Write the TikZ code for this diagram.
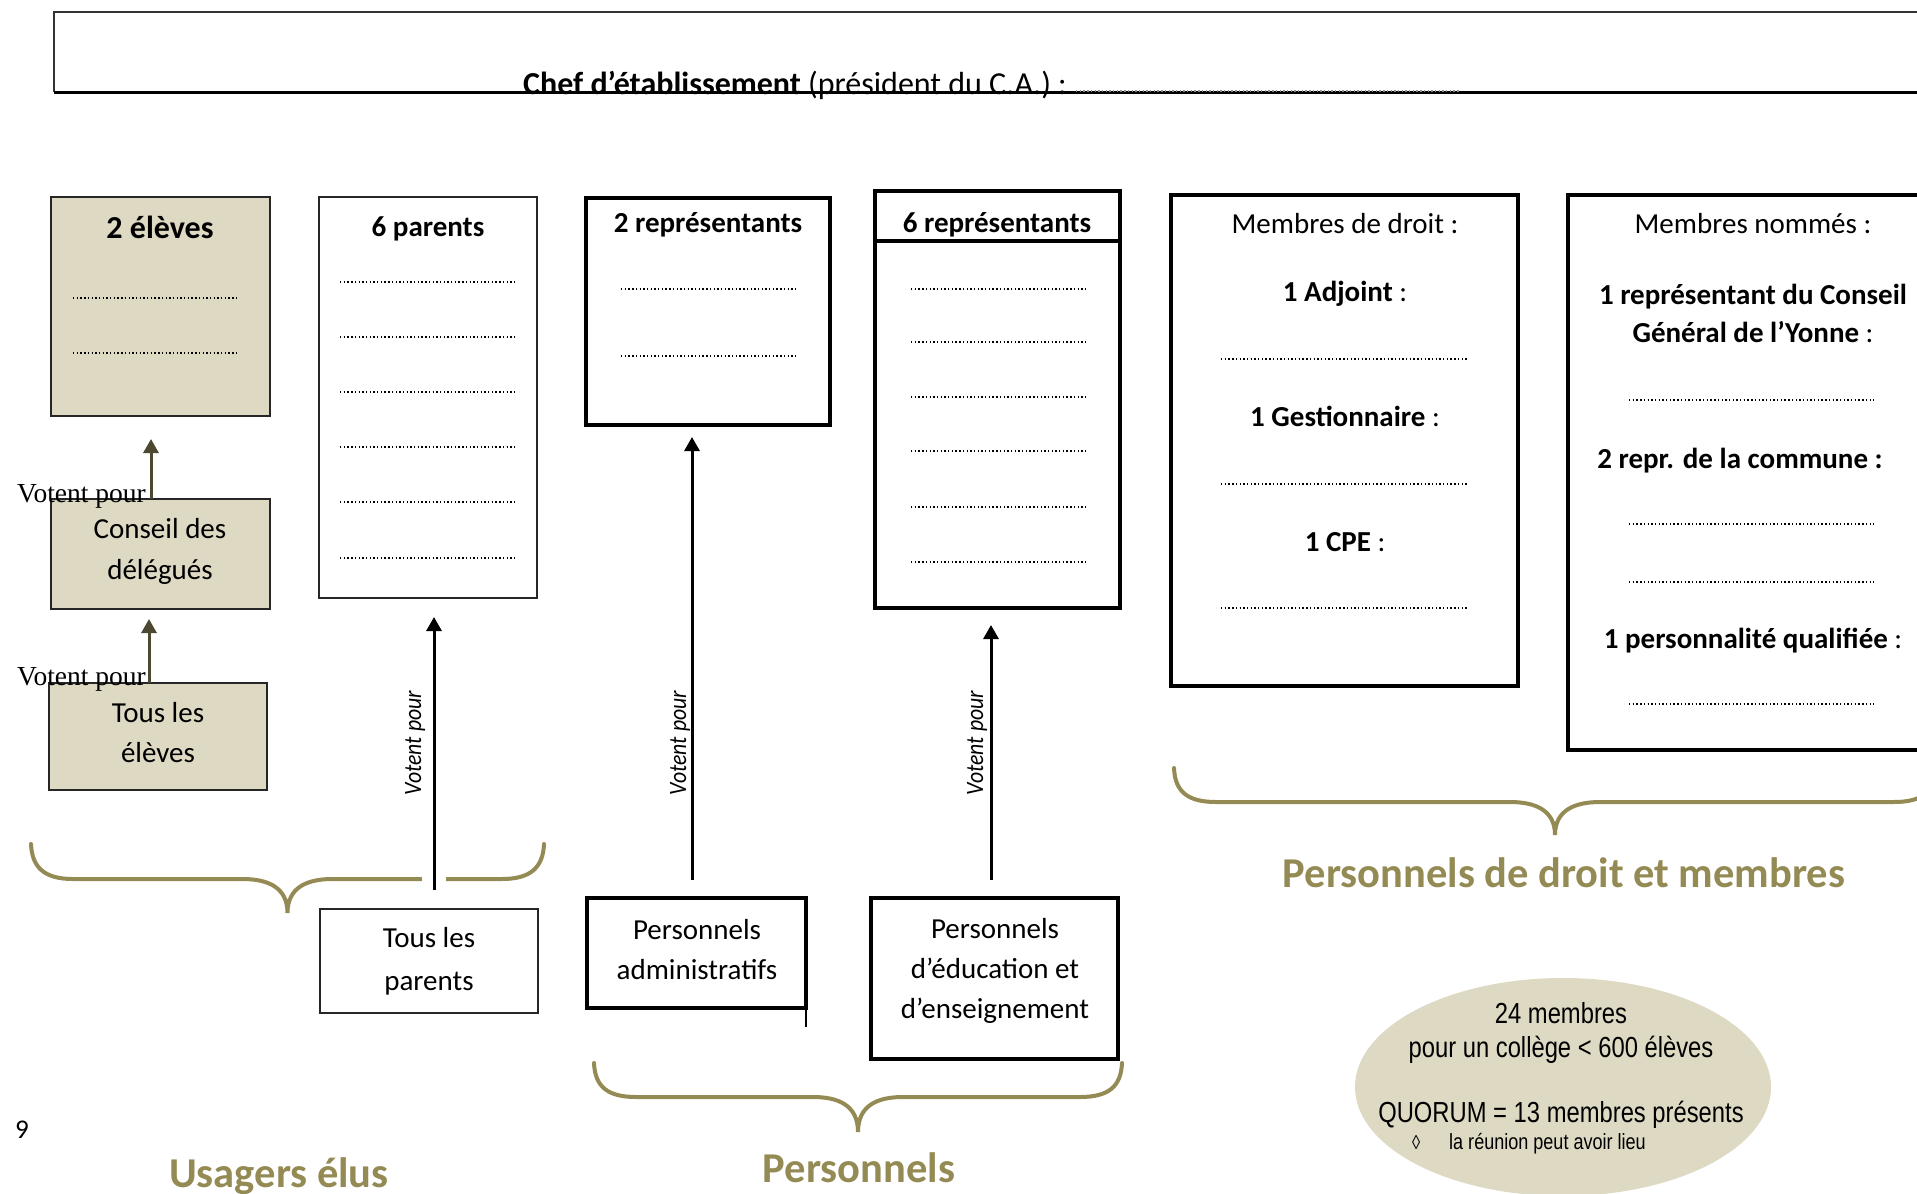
\documentclass[tikz,border=0pt]{standalone}
\usepackage{fontspec}
\setmainfont{Carlito}
\newfontfamily\timesfont{Liberation Serif}
\newfontfamily\narrowfont[FakeStretch=0.82]{Liberation Sans}
\newfontfamily\condfont[FakeStretch=0.87]{Carlito}
\usetikzlibrary{arrows.meta,shapes.geometric}
\definecolor{boxtan}{HTML}{DDD9C3}
\definecolor{braceolive}{HTML}{948A54}
\definecolor{darkolive}{HTML}{4D4832}
\tikzset{
  thinbox/.style={draw=black!85, line width=2pt},
  thickbox/.style={draw=black, line width=3.5pt},
  btitle/.style={font=\fontsize{29}{35}\selectfont\bfseries, inner sep=0pt, anchor=base},
  bline/.style={font=\fontsize{29}{35}\selectfont, inner sep=0pt, anchor=base},
  btext/.style={font=\fontsize{29}{41}\selectfont, align=center, inner sep=0pt},
  vlabel/.style={font=\fontsize{25}{30}\condfont\itshape, rotate=90, inner sep=0pt},
  timeslabel/.style={font=\fontsize{27.5}{30}\timesfont, anchor=base west, inner sep=0pt},
  grouplabel/.style={font=\fontsize{42.5}{48}\selectfont\bfseries, text=braceolive, inner sep=0pt, anchor=base},
  ell/.style={font=\fontsize{29}{35}\narrowfont, inner sep=0pt, anchor=base},
  arr/.style={line width=3pt, -{Triangle[length=14pt,width=15pt]}},
  arrL/.style={arr, draw=darkolive, fill=darkolive},
  bracestyle/.style={draw=braceolive, line width=4pt, line cap=round},
  dotline/.style={line width=1.4pt, dash pattern=on 1.4pt off 2.3pt}
}
\newcommand\boxnode[6]{\node[#1, minimum width={#5-#3}, minimum height={#6-#4}, anchor=north west, inner sep=0pt, outer sep=0pt] (#2) at (#3,#4) {};}
\newcommand\olbrace[5]{%
  \pgfmathsetmacro\bxc{(#1+#2)/2}%
  \draw[bracestyle] (#1,#3) .. controls (#1+1,#3+24) and (#1+14,#4) .. (#1+42,#4) -- (\bxc-45,#4)
    .. controls (\bxc-20,#4) and (\bxc,#4+8) .. (\bxc,#5)
    .. controls (\bxc,#4+8) and (\bxc+20,#4) .. (\bxc+45,#4) -- (#2-42,#4)
    .. controls (#2-14,#4) and (#2-1,#3+24) .. (#2,#3);}
\begin{document}
\begin{tikzpicture}[x=1pt,y=-1pt]
\path[use as bounding box] (0,0) rectangle (1917,1194);
\clip (0,0) rectangle (1917,1194);
\fill[white] (0,0) rectangle (1917,1194);

% top box
\draw[line width=2pt, black!80] (1945,12) -- (54,12) -- (54,92);
\draw[line width=3pt] (54,92) -- (1945,92);
\node[bline, font=\fontsize{32}{38}\selectfont, anchor=base west] (chef) at (523,94) {\textbf{Chef d’établissement} (président du C.A.) :};
\draw[dotline, black!45] (1076,91) -- (1459,91);

% column 1 : eleves
\boxnode{thinbox, fill=boxtan}{eleves2}{51}{197}{270}{416}
\node[btitle, font=\fontsize{32}{38}\selectfont\bfseries] (eleves2t) at (160,238) {2 élèves};
\foreach \y in {298,353} \draw[dotline] (73,\y) -- (236,\y);
\boxnode{thinbox, fill=boxtan}{conseil}{51}{499}{270}{609}
\node[btext] (conseilt) at (160,551) {Conseil des\\délégués};
\boxnode{thinbox, fill=boxtan}{touseleves}{49}{683}{267}{790}
\node[btext, font=\fontsize{29}{40}\selectfont] (touselevest) at (158,733) {Tous les\\élèves};
\coordinate (a1) at (151,439);
\draw[arrL] (conseil.north -| a1) -- (a1);
\coordinate (a2) at (149,619);
\draw[arrL] (touseleves.north -| a2) -- (a2);
\node[timeslabel] (vp1) at (17,502) {Votent pour};
\node[timeslabel] (vp2) at (17,685) {Votent pour};

% column 2 : parents
\boxnode{thinbox}{parents6}{319}{197}{537}{598}
\node[btitle] (parents6t) at (428,236) {6 parents};
\foreach \y in {282,337,392,447,502,558} \draw[dotline] (340,\y) -- (514,\y);
\boxnode{thinbox}{touspar}{320}{909}{538}{1013}
\node[btext, font=\fontsize{29}{43}\selectfont] (tousparT) at (429,961) {Tous les\\parents};

% column 3 : representants admin
\boxnode{thickbox}{rep2}{586}{198}{830}{425}
\node[btitle] (rep2t) at (708,232) {2 représentants};
\foreach \y in {289,356} \draw[dotline] (621,\y) -- (796,\y);
\boxnode{thickbox}{persadm}{587}{898}{806}{1008}
\draw[line width=2pt] (persadm.south east) -- ++(0,19);
\node[btext, font=\fontsize{29}{40}\selectfont] (persadmt) at (697,950) {Personnels\\administratifs};

% column 4 : representants education
\boxnode{thickbox}{rep6}{875}{191}{1120}{608}
\coordinate (h6) at (0,241);
\draw[line width=3.5pt] (rep6.west |- h6) -- (rep6.east |- h6);
\node[btitle] (rep6t) at (997,232) {6 représentants};
\foreach \y in {289,342,397,451,507,562} \draw[dotline] (911,\y) -- (1085,\y);
\boxnode{thickbox}{persedu}{871}{898}{1118}{1059}
\node[btext, font=\fontsize{29}{40}\selectfont] (persedut) at (995,971) {Personnels\\d’éducation et\\d’enseignement};

% column 5 : membres de droit
\boxnode{thickbox}{droit}{1171}{195}{1518}{686}
\node[bline] (droit0) at (1345,233.5) {Membres de droit :};
\node[bline] (droit1) at (1345,301.5) {\textbf{1 Adjoint} :};
\node[bline] (droit2) at (1345,426.5) {\textbf{1 Gestionnaire} :};
\node[bline] (droit3) at (1345,551.5) {\textbf{1 CPE} :};
\foreach \y in {359,484,608} \draw[dotline] (1221,\y) -- (1468,\y);

% column 6 : membres nommes
\boxnode{thickbox}{nommes}{1568}{195}{1945}{750}
\node[bline] (nom0) at (1753,233.5) {Membres nommés :};
\node[bline] (nom1) at (1753,304.5) {\textbf{1 représentant du Conseil}};
\node[bline] (nom2) at (1753,342.5) {\textbf{Général de l’Yonne} :};
\node[bline] (nom3) at (1740,468.5) {\textbf{2 repr. de la commune :}};
\node[bline] (nom4) at (1753,648.5) {\textbf{1 personnalité qualifiée} :};
\foreach \y in {400,524,582,704} \draw[dotline] (1629,\y) -- (1874,\y);

% braces
\olbrace{31}{544}{844}{879}{913}
\olbrace{594}{1122}{1063}{1097}{1132}
\olbrace{1174}{1936}{768}{802}{835}
\fill[white] (422,868) rectangle (446,892);

% vote arrows
\coordinate (p0) at (434,890); \coordinate (p1) at (434,617);
\draw[arr] (p0) -- (p1);
\coordinate (r0) at (692,880); \coordinate (r1) at (692,437);
\draw[arr] (r0) -- (r1);
\coordinate (s0) at (991,880); \coordinate (s1) at (991,625);
\draw[arr] (s0) -- (s1);
\node[vlabel] (vp3) at (415,743) {Votent pour};
\node[vlabel] (vp4) at (680,743) {Votent pour};
\node[vlabel] (vp5) at (977,743) {Votent pour};

% group labels
\node[grouplabel] (gusagers) at (279,1187) {Usagers élus};
\node[grouplabel] (gpers) at (859,1182) {Personnels};
\node[grouplabel] (gdroit) at (1564,887) {Personnels de droit et membres};
\node[font=\fontsize{27}{32}\selectfont, inner sep=0pt, anchor=base west] (pagenum) at (15,1138) {9};

% quorum ellipse
\node[ellipse, fill=boxtan, minimum width=416pt, minimum height=218pt, inner sep=0pt] (quorum) at (1563,1087) {};
\node[ell] (q1) at (1561,1023) {24 membres};
\node[ell] (q2) at (1561,1057) {pour un collège < 600 élèves};
\node[ell] (q3) at (1561,1122) {QUORUM = 13 membres présents};
\node[ell, font=\fontsize{20}{24}\narrowfont, anchor=base west] (q4a) at (1412,1149) {◊};
\node[ell, font=\fontsize{22}{26}\narrowfont, anchor=base west] (q4) at (1449,1149) {la réunion peut avoir lieu};
\end{tikzpicture}
\end{document}
